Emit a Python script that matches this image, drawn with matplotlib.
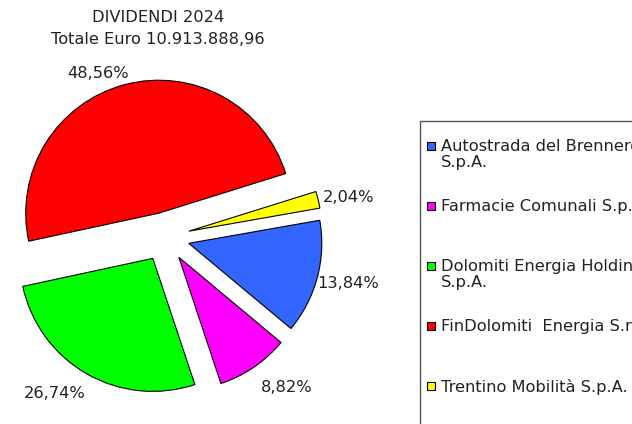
import matplotlib
matplotlib.use("Agg")
import matplotlib.pyplot as plt
from matplotlib.patches import Rectangle

# Dividend shares 2024
companies = ["Autostrada del Brennero\nS.p.A.",
             "Farmacie Comunali S.p.A.",
             "Dolomiti Energia Holding\nS.p.A.",
             "FinDolomiti  Energia S.r.l.",
             "Trentino Mobilità S.p.A."]
shares = [13.84, 8.82, 26.74, 48.56, 2.04]
colors = ["#3366FF", "#FF00FF", "#00FF00", "#FF0000", "#FFFF00"]
pct_labels = [f"{v:.2f}".replace(".", ",") + "%" for v in shares]

W, H = 632, 424
FS = 11.7
plt.rcParams['font.family'] = 'DejaVu Sans'
fig = plt.figure(figsize=(W / 100, H / 100), dpi=100)

# pie: centre and radius in pixels
cx, cy, r = 165, 237, 133
half = 1.5 * r
ax = fig.add_axes([(cx - half) / W, (H - cy - half) / H, 2 * half / W, 2 * half / H])
wedges, texts = ax.pie(shares, labels=pct_labels, colors=colors,
                       startangle=10, counterclock=False,
                       explode=[0.185] * len(shares), labeldistance=1.24,
                       wedgeprops=dict(edgecolor="black", linewidth=0.8),
                       textprops=dict(fontsize=FS, color="#222222"))
# label spots as placed in the original (pixels)
label_px = [(348, 284), (287, 388), (55, 393), (98, 73), (348, 197)]
for t, (px, py) in zip(texts, label_px):
    t.set_ha("center")
    t.set_va("center")
    t.set_position(((px - cx) / r, (cy - py) / r))
ax.set_xlim(-1.5, 1.5)
ax.set_ylim(-1.5, 1.5)
ax.axis("off")

# title
fig.text(158 / W, 1 - 18 / H, "DIVIDENDI 2024", ha="center", va="center",
         fontsize=FS, color="#222222")
fig.text(158 / W, 1 - 40 / H, "Totale Euro 10.913.888,96", ha="center", va="center",
         fontsize=FS, color="#222222")

# legend box (runs off the right edge like the original)
fig.patches.append(Rectangle((420 / W, -10 / H), 400 / W, (H - 121 + 10) / H,
                             transform=fig.transFigure, fill=False,
                             edgecolor="#555555", linewidth=1))
y0, step = 146, 60
for i, (name, c) in enumerate(zip(companies, colors)):
    y = y0 + i * step
    fig.patches.append(Rectangle((427 / W, 1 - (y + 4) / H), 8 / W, 8 / H,
                                 transform=fig.transFigure, facecolor=c,
                                 edgecolor="black", linewidth=0.8))
    fig.text(441 / W, 1 - (y - 7) / H, name, ha="left", va="top",
             fontsize=FS, color="#222222", linespacing=1.1)

fig.savefig("out.png", dpi=100)
